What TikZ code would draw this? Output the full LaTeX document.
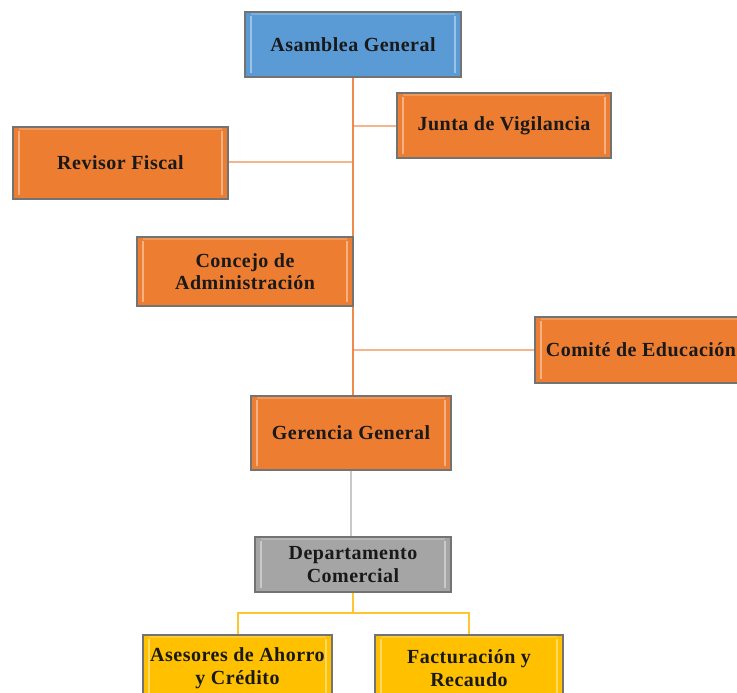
\documentclass[tikz,border=0pt]{standalone}
\usepackage{fontspec}
\setmainfont{Liberation Serif}
\definecolor{boxorange}{HTML}{ED7D31}
\definecolor{boxblue}{HTML}{5B9BD5}
\definecolor{boxgray}{HTML}{A5A5A5}
\definecolor{boxyellow}{HTML}{FFC000}
\definecolor{lineorange}{HTML}{F08A4B}
\definecolor{lineorangelight}{HTML}{F5B48C}
\definecolor{linegray}{HTML}{C8C8C8}
\definecolor{lineyellow}{HTML}{FFC52E}
\begin{document}
\begin{tikzpicture}[x=1pt,y=-1pt,
  unit/.style={
    draw=black!55, line width=1.2pt, fill=#1, rectangle,
    inner sep=0pt, align=center, text=black!90,
    font=\bfseries\fontsize{20}{22.5}\selectfont\addfontfeature{LetterSpace=2.5},
    path picture={
      \draw[white, opacity=0.4, line width=2.5pt]
        ([xshift=6pt,yshift=4pt]path picture bounding box.south west) --
        ([xshift=6pt,yshift=-4pt]path picture bounding box.north west);
      \draw[white, opacity=0.4, line width=2.5pt]
        ([xshift=-6pt,yshift=4pt]path picture bounding box.south east) --
        ([xshift=-6pt,yshift=-4pt]path picture bounding box.north east);
      \draw[white, opacity=0.2, line width=2pt]
        ([xshift=6pt,yshift=-2pt]path picture bounding box.north west) --
        ([xshift=-6pt,yshift=-2pt]path picture bounding box.north east);
    }},
  trunk/.style={draw=lineorange, line width=2pt},
  branch/.style={draw=lineorangelight, line width=2pt},
  grayline/.style={draw=linegray, line width=2pt},
  yellowline/.style={draw=lineyellow, line width=2pt}]
\useasboundingbox (0,0) rectangle (737,693);

% connectors, drawn first so the boxes sit on top
\coordinate (spine) at (353,77);
\coordinate (split) at (353,613);
\coordinate (trunkend) at (353,396);
\draw[branch] (353,126) -- (397,126);
\draw[branch] (228,162) -- (353,162);
\draw[branch] (353,350) -- (535,350);
\draw[trunk] (spine) -- (trunkend);

% governing bodies
\node[unit=boxblue, minimum width=216pt, minimum height=65pt] (asamblea) at (353,44.5) {Asamblea General};
\node[unit=boxorange, minimum width=214pt, minimum height=65pt] (junta) at (504,125.5) {Junta de Vigilancia};
\node[unit=boxorange, minimum width=215pt, minimum height=72pt] (revisor) at (120.5,163) {Revisor Fiscal};
\node[unit=boxorange, minimum width=216pt, minimum height=69pt] (concejo) at (245,271.5) {Concejo de\\Administración};
\node[unit=boxorange, minimum width=212pt, minimum height=66pt] (comite) at (641,350) {Comité de Educación};

% management
\node[unit=boxorange, minimum width=200pt, minimum height=74pt] (gerencia) at (351,433) {Gerencia General};
\node[unit=boxgray, minimum width=196pt, minimum height=55pt] (depto) at (353,564.5) {Departamento\\Comercial};
\node[unit=boxyellow, minimum width=189pt, minimum height=66pt] (asesores) at (237.5,668) {Asesores de Ahorro\\y Crédito};
\node[unit=boxyellow, minimum width=188pt, minimum height=66pt] (factura) at (469,668) {Facturación y\\Recaudo};

% lower connectors
\draw[grayline] (gerencia.south) -- (gerencia.south |- depto.north);
\draw[yellowline] (depto.south) -- (split) -| (asesores.north);
\draw[yellowline] (split) -| (factura.north);
\end{tikzpicture}
\end{document}
